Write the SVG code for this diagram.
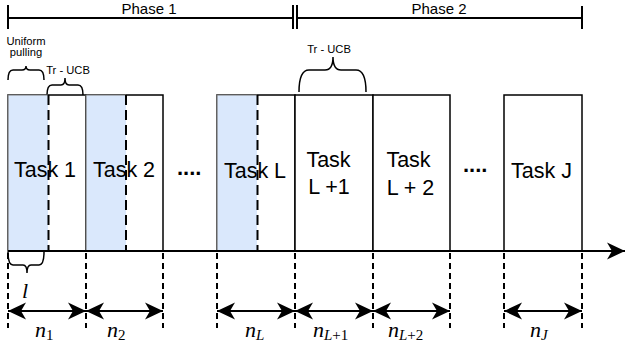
<svg xmlns="http://www.w3.org/2000/svg" width="626" height="348" viewBox="0 0 626 348">
<defs>
<style>
.box{fill:#ffffff;stroke:#000;stroke-width:1.5}
.blue{fill:#dae8fc;stroke:none}
.bedge{fill:none;stroke:#7a7a7a;stroke-width:1.2}
.split{stroke:#000;stroke-width:2;stroke-dasharray:10 5;fill:none}
.vd{stroke:#000;stroke-width:2;stroke-dasharray:6 4;fill:none}
.ln{stroke:#000;stroke-width:2;fill:none}
.brace{stroke:#000;stroke-width:1.5;fill:none}
.t{font-family:"Liberation Sans",Arial,sans-serif;font-size:21.5px;fill:#000;text-anchor:middle}
.s{font-family:"Liberation Sans",Arial,sans-serif;font-size:11.2px;fill:#000;text-anchor:middle}
.ph{font-family:"Liberation Sans",Arial,sans-serif;font-size:15px;fill:#000;text-anchor:middle}
.m{font-family:"Liberation Serif","Times New Roman",serif;font-style:italic;font-size:22px;fill:#000}
.sub{font-size:15px}
.up{font-style:normal}
.dots{font-family:"Liberation Sans",Arial,sans-serif;font-size:22px;font-weight:bold;fill:#000}
</style>
<marker id="ah" viewBox="0 0 18 18" refX="18" refY="9" markerWidth="18" markerHeight="18" markerUnits="userSpaceOnUse" orient="auto-start-reverse">
<path d="M18,9 L0,0.5 L5,9 L0,17.5 Z" fill="#000"/>
</marker>
</defs>

<g id="phases">
<line class="ln" x1="8" y1="18" x2="293" y2="18"/>
<line class="ln" x1="297" y1="18" x2="582" y2="18"/>
<line class="ln" x1="8" y1="5" x2="8" y2="29"/>
<line class="ln" x1="293" y1="5" x2="293" y2="29"/>
<line class="ln" x1="297" y1="5" x2="297" y2="29"/>
<line class="ln" x1="582" y1="6" x2="582" y2="29"/>
<text class="ph" x="149" y="14">Phase 1</text>
<text class="ph" x="439" y="14">Phase 2</text>
</g>

<g id="annotations">
<text class="s" x="26" y="45">Uniform</text>
<text class="s" x="26" y="56">pulling</text>
<path class="brace" d="M8,80 Q8,70 13,70 L22,70 Q26,70 26,66 Q26,70 30,70 L39,70 Q44,70 44,80"/>
<text class="s" x="68" y="74">Tr - UCB</text>
<path class="brace" d="M47,95 Q47,85 52,85 L61,85 Q65,85 65,78 Q65,85 69,85 L78,85 Q83,85 83,95"/>
<text class="s" x="329" y="53">Tr - UCB</text>
<path class="brace" d="M299,92 Q299,70 309,70 L325,70 Q333,70 333,57 Q333,70 341,70 L356,70 Q366,70 366,92"/>
<path class="brace" d="M8,252 Q8,265 13,265 L23,265 Q27,265 27,273 Q27,265 31,265 L39,265 Q44,265 44,252"/>
<text class="m" x="22" y="298">l</text>
</g>

<g id="task1">
<rect class="box" x="8" y="95" width="78" height="156"/>
<rect class="blue" x="8" y="95" width="40" height="156"/>
<polyline class="bedge" points="48,95 8,95 8,251"/>
<line class="split" x1="48.5" y1="95" x2="48.5" y2="251"/>
<text class="t" x="45" y="177">Task 1</text>
</g>

<g id="task2">
<rect class="box" x="86" y="95" width="77" height="156"/>
<rect class="blue" x="86" y="95" width="40" height="156"/>
<polyline class="bedge" points="126,95 86,95 86,251"/>
<line class="split" x1="126" y1="95" x2="126" y2="251"/>
<text class="t" x="124" y="177">Task 2</text>
</g>

<text id="dots1" class="dots" x="177" y="175">....</text>

<g id="taskL">
<rect class="box" x="217" y="95" width="78" height="156"/>
<rect class="blue" x="217" y="95" width="40" height="156"/>
<polyline class="bedge" points="257,95 217,95 217,251"/>
<line class="split" x1="257.5" y1="95" x2="257.5" y2="251"/>
<text class="t" x="255" y="178">Task L</text>
</g>

<g id="taskL1">
<rect class="box" x="295" y="95" width="78" height="156"/>
<text class="t" x="328.5" y="166.5">Task</text>
<text class="t" x="329" y="193.5">L +1</text>
</g>

<g id="taskL2">
<rect class="box" x="373" y="95" width="77" height="156"/>
<text class="t" x="408.5" y="167">Task</text>
<text class="t" x="410.5" y="194.5">L + 2</text>
</g>

<text id="dots2" class="dots" x="463" y="172">....</text>

<g id="taskJ">
<rect class="box" x="504" y="95" width="78" height="156"/>
<text class="t" x="541.5" y="178">Task J</text>
</g>

<g id="connectors">
<line class="ln" x1="8" y1="251" x2="625" y2="251" marker-end="url(#ah)"/>
<line class="vd" x1="8" y1="253" x2="8" y2="328"/>
<line class="vd" x1="86" y1="253" x2="86" y2="328"/>
<line class="vd" x1="163" y1="253" x2="163" y2="328"/>
<line class="vd" x1="217" y1="253" x2="217" y2="328"/>
<line class="vd" x1="295" y1="253" x2="295" y2="328"/>
<line class="vd" x1="373" y1="253" x2="373" y2="328"/>
<line class="vd" x1="450" y1="253" x2="450" y2="328"/>
<line class="vd" x1="504" y1="253" x2="504" y2="328"/>
<line class="vd" x1="582" y1="253" x2="582" y2="328"/>
<line class="ln" x1="8" y1="311" x2="86" y2="311" marker-start="url(#ah)" marker-end="url(#ah)"/>
<line class="ln" x1="86" y1="311" x2="163" y2="311" marker-start="url(#ah)" marker-end="url(#ah)"/>
<line class="ln" x1="217" y1="311" x2="295" y2="311" marker-start="url(#ah)" marker-end="url(#ah)"/>
<line class="ln" x1="295" y1="311" x2="373" y2="311" marker-start="url(#ah)" marker-end="url(#ah)"/>
<line class="ln" x1="373" y1="311" x2="450" y2="311" marker-start="url(#ah)" marker-end="url(#ah)"/>
<line class="ln" x1="504" y1="311" x2="582" y2="311" marker-start="url(#ah)" marker-end="url(#ah)"/>
</g>

<g id="labels">
<text class="m" x="35" y="337">n<tspan class="sub up" dy="3">1</tspan></text>
<text class="m" x="107" y="337">n<tspan class="sub up" dy="3">2</tspan></text>
<text class="m" x="245" y="337">n<tspan class="sub" dy="3">L</tspan></text>
<text class="m" x="313" y="337">n<tspan class="sub" dy="3">L</tspan><tspan class="sub up">+1</tspan></text>
<text class="m" x="388" y="337">n<tspan class="sub" dy="3">L</tspan><tspan class="sub up">+2</tspan></text>
<text class="m" x="530" y="337">n<tspan class="sub" dy="3">J</tspan></text>
</g>
</svg>
